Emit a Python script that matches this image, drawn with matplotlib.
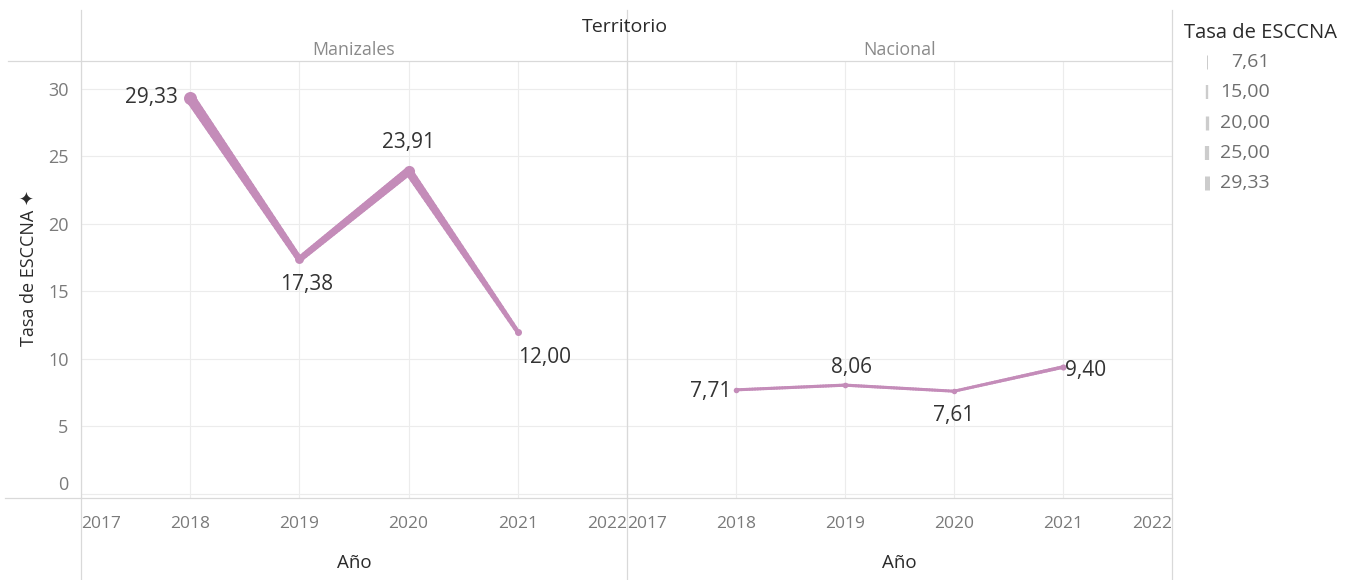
import matplotlib
matplotlib.use("Agg")
import matplotlib.pyplot as plt
import numpy as np
from matplotlib.collections import LineCollection
from matplotlib.lines import Line2D

plt.rcParams['font.family'] = ['Open Sans', 'DejaVu Sans']

# ---- data ----
years = [2018, 2019, 2020, 2021]
territorios = ["Manizales", "Nacional"]
manizales = [29.33, 17.38, 23.91, 12.00]
nacional = [7.71, 8.06, 7.61, 9.40]
series = [manizales, nacional]
x_ticks = [2017, 2018, 2019, 2020, 2021, 2022]
y_ticks = [0, 5, 10, 15, 20, 25, 30]
legend_values = [7.61, 15.00, 20.00, 25.00, 29.33]

# label placement per point: (dx_px, dy_px, ha, va)
label_pos = [
    [(-12, 0, 'right', 'center'), (7, -15, 'center', 'top'), (0, 18, 'center', 'bottom'), (0, -15, 'left', 'top')],
    [(-5, -2, 'right', 'center'), (7, 7, 'center', 'bottom'), (0, -14, 'center', 'top'), (2, -3, 'left', 'center')],
]

COLOR = '#c48cb9'
W, H = 1353, 580
DPI = 100
VMIN, VMAX = min(legend_values), max(legend_values)


def size_px(v):
    return 3.0 + (v - VMIN) / (VMAX - VMIN) * 7.5


def fmt(v):
    return f"{v:.2f}".replace('.', ',')


fig = plt.figure(figsize=(W / DPI, H / DPI), dpi=DPI)


def fx(px):
    return px / W


def fy(py):
    return 1 - py / H


# panel geometry in pixels
panels = [(81, 627), (627, 1172)]
top, bottom = 61, 498

axes = []
for i, (x0, x1) in enumerate(panels):
    ax = fig.add_axes([fx(x0), fy(bottom), (x1 - x0) / W, (bottom - top) / H])
    ax.set_xlim(2017, 2022)
    ax.set_ylim(-0.3, 32.07)
    for s in ax.spines.values():
        s.set_visible(False)
    ax.set_xticks(x_ticks)
    ax.set_yticks(y_ticks)
    ax.grid(True, color='#ececec', lw=0.8)
    ax.set_axisbelow(True)
    ax.tick_params(length=0, colors='#7a7a7a', labelsize=12.5)
    ax.tick_params(axis='x', pad=13)
    labels = ax.set_xticklabels([str(t) for t in x_ticks])
    labels[0].set_ha('left')
    labels[-1].set_ha('right')
    if i == 0:
        ylabs = ax.set_yticklabels([str(t) for t in y_ticks])
        ylabs[0].set_va('bottom')
        ax.tick_params(axis='y', pad=9, labelsize=13)
    else:
        ax.set_yticklabels([])
    ax.set_xlabel("Año", fontsize=13.5, color='#2a2a2a', labelpad=16)

    vals = series[i]
    # variable width line
    for j in range(len(years) - 1):
        n = 40
        xs = np.linspace(years[j], years[j + 1], n + 1)
        ys = np.linspace(vals[j], vals[j + 1], n + 1)
        pts = np.column_stack([xs, ys]).reshape(-1, 1, 2)
        segs = np.concatenate([pts[:-1], pts[1:]], axis=1)
        mids = (ys[:-1] + ys[1:]) / 2
        lws = [size_px(m) * 0.72 for m in mids]
        lc = LineCollection(segs, linewidths=lws, colors=COLOR, capstyle='round', zorder=3)
        ax.add_collection(lc)
    for j, (xv, yv) in enumerate(zip(years, vals)):
        ax.plot([xv], [yv], 'o', color=COLOR, ms=(size_px(yv) + 2.5) * 0.72, mec='none', zorder=4)
        dx, dy, ha, va = label_pos[i][j]
        ax.annotate(fmt(yv), (xv, yv), xytext=(dx * 0.72, dy * 0.72), textcoords='offset points',
                    ha=ha, va=va, fontsize=15, color='#333333', zorder=5)
    ax.text(0.5, 1.0 + 2 / (bottom - top), territorios[i], transform=ax.transAxes,
            ha='center', va='bottom', fontsize=12.8, color='#8a8a8a')
    axes.append(ax)

axes[0].set_ylabel("Tasa de ESCCNA ✦", fontsize=13, color='#2a2a2a')
axes[0].yaxis.set_label_coords(-(81 - 38) / 546, (498 - 268) / (498 - 61))

# frame lines
lc_col = '#d9d9d9'
for xp in [81, 627, 1172]:
    fig.add_artist(Line2D([fx(xp), fx(xp)], [fy(10), fy(580)], color=lc_col, lw=0.9))
fig.add_artist(Line2D([fx(8), fx(1172)], [fy(61), fy(61)], color=lc_col, lw=0.9))
fig.add_artist(Line2D([fx(5), fx(1172)], [fy(498), fy(498)], color=lc_col, lw=0.9))

fig.text(fx(625), fy(27), "Territorio", ha='center', va='center', fontsize=14, color='#2a2a2a')

# legend (size)
fig.text(fx(1184), fy(33), "Tasa de ESCCNA", ha='left', va='center', fontsize=14.5, color='#2a2a2a')
for k, v in enumerate(legend_values):
    yc = 62 + k * 30.3
    wpx = 1 + (v - VMIN) / (VMAX - VMIN) * 4
    fig.add_artist(Line2D([fx(1207), fx(1207)], [fy(yc - 7), fy(yc + 7)], color='#cccccc', lw=wpx * 0.72,
                          solid_capstyle='butt'))
    fig.text(fx(1270), fy(yc), fmt(v), ha='right', va='center', fontsize=14, color='#6e6e6e')

fig.savefig("out.png", dpi=DPI)
